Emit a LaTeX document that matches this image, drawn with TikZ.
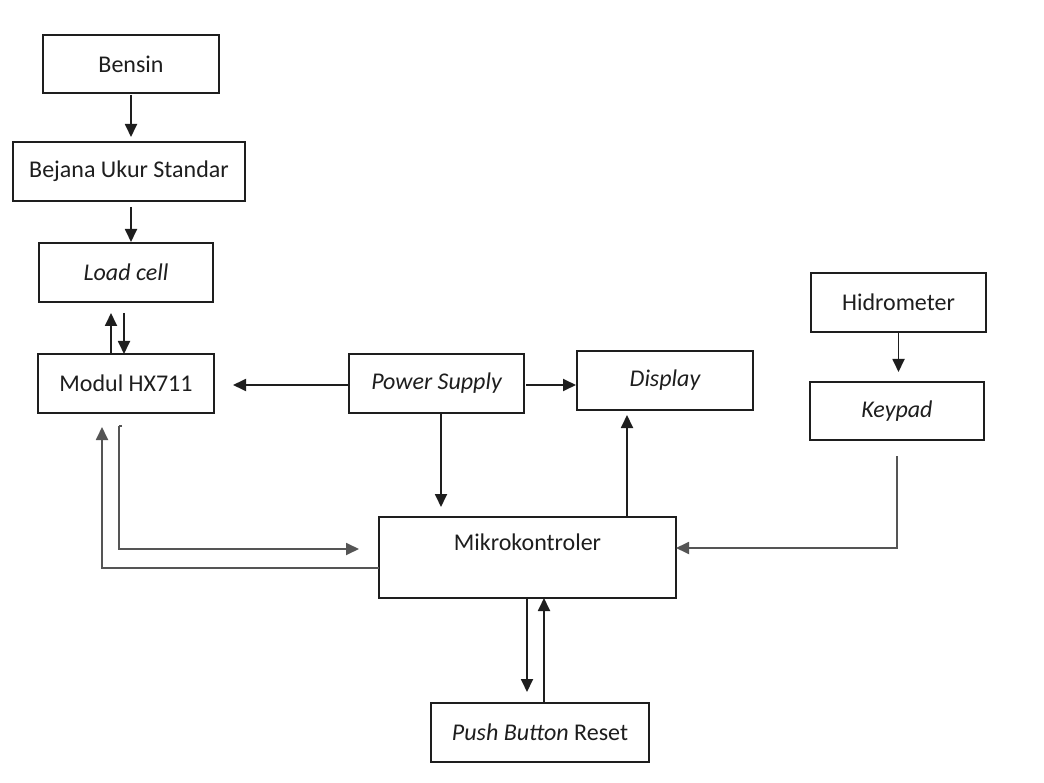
\documentclass[tikz,border=0pt]{standalone}
\usepackage{fontspec}
\setmainfont{Carlito}
\usetikzlibrary{arrows.meta,calc}
\definecolor{ink}{HTML}{1E1E1E}
\definecolor{gline}{HTML}{555555}
\tikzset{
  txt/.style={font=\fontsize{24}{28}\selectfont, text=ink},
  box/.style={draw=ink, line width=1.8pt, outer sep=0pt, inner sep=0pt, minimum height=59pt, txt},
  arr/.style={draw=ink, line width=1.8pt, -{Triangle[length=13pt,width=12pt]}},
  garr/.style={draw=gline, line width=1.8pt, -{Triangle[length=13pt,width=12pt]}, color=gline},
}
\begin{document}
\begin{tikzpicture}[x=1pt,y=-1pt]
\useasboundingbox[fill=white] (0,0) rectangle (1044,783);
% boxes
\node[box, minimum width=176pt, minimum height=58pt] (bensin) at (131,64) {Bensin};
\node[box, minimum width=232pt] (bejana) at (129,171.5) {Bejana Ukur Standar};
\node[box, minimum width=174pt] (load) at (126,272.5) {\itshape Load cell};
\node[box, minimum width=176pt] (hx) at (126,383.5) {Modul HX711};
\node[box, minimum width=175pt] (ps) at (436.5,383.5) {\itshape Power Supply};
\node[box, minimum width=176pt] (disp) at (665,380.5) {\itshape Display};
\node[box, minimum width=175pt] (hidro) at (898.5,302.5) {Hidrometer};
\node[box, minimum width=174pt, minimum height=58pt] (key) at (897,411) {\itshape Keypad};
\node[box, minimum width=297pt, minimum height=81pt,
  label={[anchor=center, yshift=-25pt, txt]north:Mikrokontroler}] (mk) at (527.5,557.5) {};
\node[box, minimum width=218pt] (push) at (540,732.5) {\itshape Push Button\/\upshape\ Reset};
% connectors
\draw[arr, shorten <=2pt, shorten >=5pt] (bensin.south) -- (bensin.south |- bejana.north);
\draw[arr, shorten <=6pt, shorten >=1pt] ([xshift=2pt]bejana.south) -- ([xshift=2pt]bejana.south |- load.north);
\draw[arr, shorten >=11pt] ([xshift=-15pt]hx.north) -- ([xshift=-15pt]hx.north |- load.south);
\draw[arr, shorten <=11pt] ([xshift=-2pt]load.south) -- ([xshift=-2pt]load.south |- hx.north);
\draw[arr, shorten >=19pt] ([yshift=-1.5pt]ps.west) -- ([yshift=-1.5pt]ps.west -| hx.east);
\draw[arr, shorten <=2pt, shorten >=1pt] ([yshift=-1.5pt]ps.east) -- ([yshift=-1.5pt]ps.east -| disp.west);
\draw[arr, shorten >=10pt] ([xshift=4.5pt]ps.south) -- ([xshift=4.5pt]ps.south |- mk.north);
\draw[arr, shorten >=5pt] ([xshift=-38pt]disp.south |- mk.north) -- ([xshift=-38pt]disp.south);
\draw[arr, shorten >=10pt] (hidro.south) -- (hidro.south |- key.north);
\draw[garr] ([yshift=-16pt]key.south) |- ([yshift=9.5pt]mk.east);
\coordinate (t1) at ([xshift=-7pt,yshift=-13pt]hx.south);
\draw[gline, line width=1.8pt] ([xshift=-4pt,yshift=-13pt]hx.south) -- (t1);
\draw[garr, shorten >=20pt] (t1) |- ([yshift=8.5pt]mk.west);
\draw[garr, shorten >=14pt] ([yshift=-10.5pt]mk.west) -| ([xshift=-24pt]hx.south);
\draw[arr, shorten >=11pt] (mk.south) ++(-0.5,0) coordinate (d1) (d1) -- (d1 |- push.north);
\draw[arr] ([xshift=4pt]push.north) -- ([xshift=4pt]push.north |- mk.south);
\end{tikzpicture}
\end{document}
